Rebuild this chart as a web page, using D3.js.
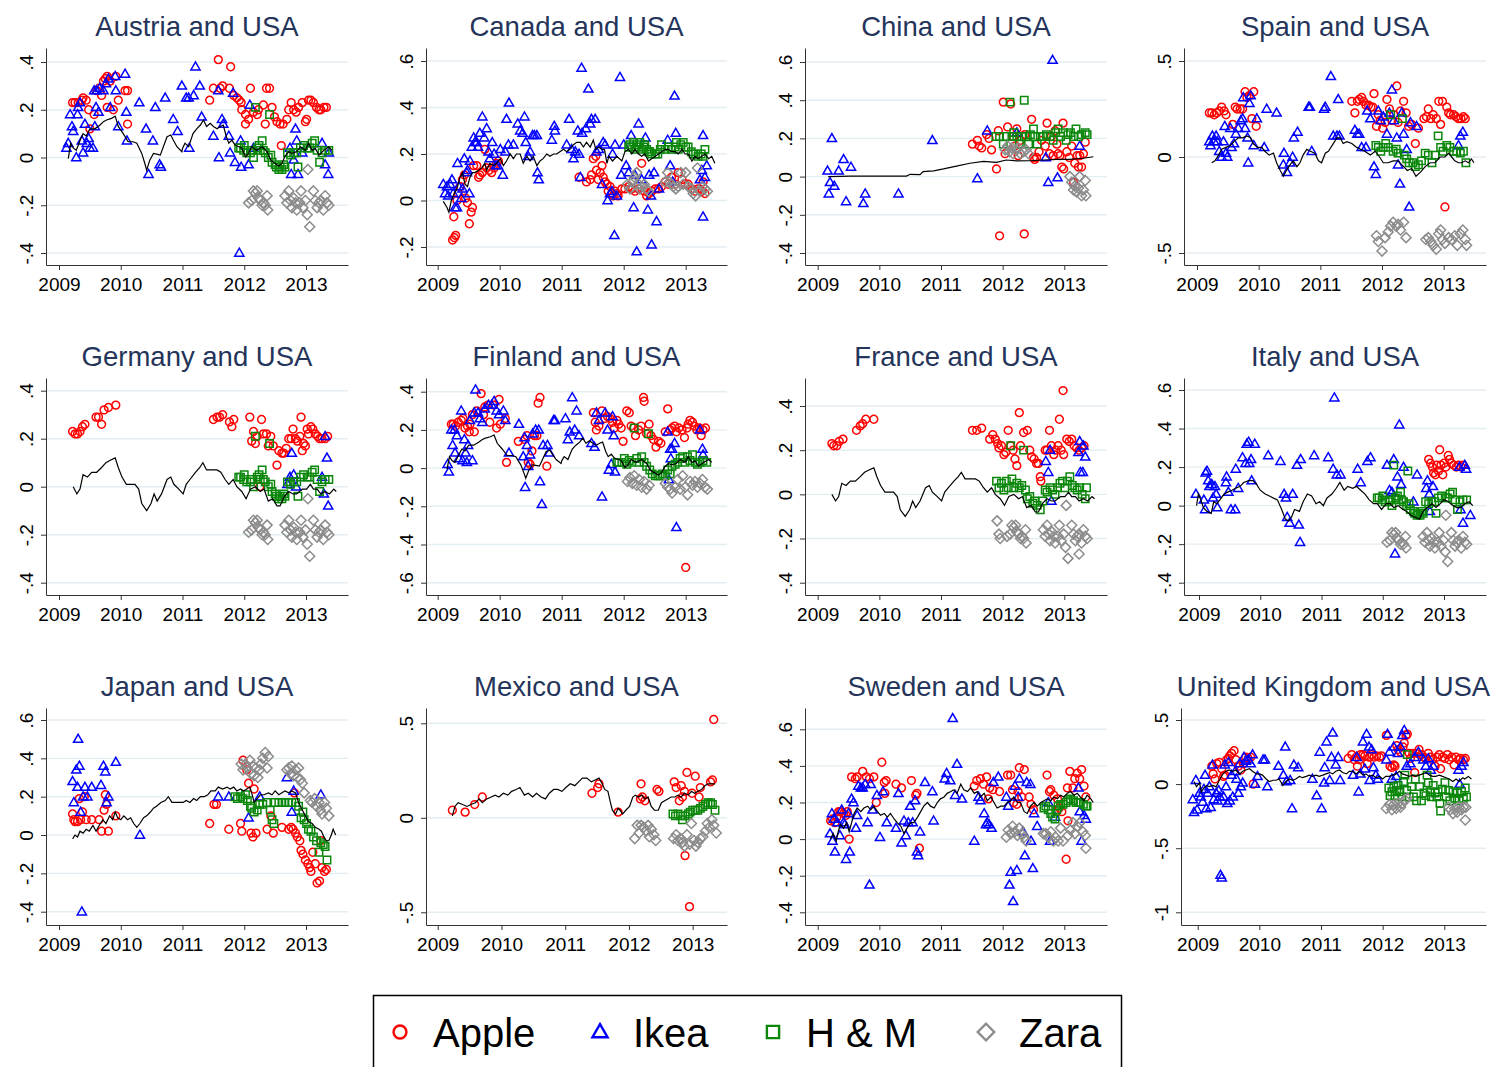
<!DOCTYPE html>
<html>
<head>
<meta charset="utf-8">
<script src="https://cdn.jsdelivr.net/npm/d3@7"></script>
<style>
body { margin: 0; background: #fff; }
svg { display: block; font-family: "Liberation Sans", Arial, sans-serif; }
</style>
</head>
<body>
<div id="chart"></div>
<script>
// ---- data: [decimal year, value] ----
var lineAF = [[2009.15,-.005],[2009.19,.06],[2009.23,.04],[2009.28,.03],[2009.34,.07],[2009.39,.10],[2009.44,.09],[2009.50,.12],[2009.58,.12],[2009.66,.135],[2009.72,.15],[2009.77,.157],[2009.85,.164],[2009.91,.173],[2009.96,.13],[2010.04,.10],[2010.12,.066],[2010.20,.066],[2010.26,.06],[2010.34,.017],[2010.39,-.025],[2010.42,-.053],[2010.47,-.011],[2010.53,.017],[2010.58,.014],[2010.64,.01],[2010.69,.045],[2010.75,.087],[2010.81,.094],[2010.85,.073],[2010.91,.045],[2010.99,.024],[2011.00,.038],[2011.04,.06],[2011.10,.045],[2011.17,.10],[2011.23,.12],[2011.29,.136],[2011.34,.157],[2011.39,.13],[2011.45,.143],[2011.50,.13],[2011.56,.12],[2011.61,.13],[2011.66,.136],[2011.71,.087],[2011.75,.06],[2011.80,.073],[2011.85,.052],[2011.91,.045],[2011.96,.04],[2012.02,.003],[2012.07,.017],[2012.12,.045],[2012.20,.03],[2012.29,.045],[2012.37,.024],[2012.43,-.011],[2012.50,-.025],[2012.56,-.036],[2012.61,-.025],[2012.66,.006],[2012.72,.024],[2012.77,.017],[2012.85,.024],[2012.91,.045],[2012.99,.03],[2013.04,.06],[2013.10,.03],[2013.15,.038],[2013.21,.01],[2013.29,.03],[2013.37,.045],[2013.42,.03]];
var austriaApple = [[2009.22,.23],[2009.26,.23],[2009.31,.23],[2009.37,.24],[2009.39,.25],[2009.44,.24],[2009.48,.20],[2009.50,.12],[2009.57,.18],[2009.61,.28],[2009.65,.29],[2009.69,.26],[2009.72,.32],[2009.75,.33],[2009.78,.34],[2009.78,.21],[2009.83,.32],[2009.88,.20],[2009.92,.34],[2009.96,.24],[2010.07,.28],[2010.11,.28],[2010.11,.14],[2011.44,.24],[2011.50,.29],[2011.58,.41],[2011.61,.29],[2011.65,.30],[2011.76,.29],[2011.78,.38],[2011.83,.26],[2011.88,.25],[2011.92,.24],[2011.95,.23],[2011.96,.20],[2012.02,.18],[2012.02,.14],[2012.07,.16],[2012.10,.29],[2012.15,.19],[2012.21,.18],[2012.23,.20],[2012.31,.22],[2012.34,.14],[2012.36,.29],[2012.41,.29],[2012.45,.21],[2012.49,.17],[2012.53,.15],[2012.58,.14],[2012.60,.05],[2012.63,.14],[2012.69,.16],[2012.72,.20],[2012.76,.23],[2012.80,.20],[2012.84,.19],[2012.88,.21],[2012.94,.23],[2012.99,.15],[2013.01,.16],[2013.04,.24],[2013.08,.24],[2013.12,.23],[2013.17,.21],[2013.21,.20],[2013.24,.20],[2013.29,.21],[2013.33,.21]];
var austriaIkea = [[2009.12,.04],[2009.15,.06],[2009.18,.18],[2009.21,.13],[2009.23,.11],[2009.28,.00],[2009.30,.18],[2009.31,.21],[2009.34,.23],[2009.37,.07],[2009.39,.02],[2009.42,.14],[2009.45,.06],[2009.48,.08],[2009.50,.04],[2009.55,.04],[2009.58,.13],[2009.57,.28],[2009.61,.28],[2009.60,.21],[2009.64,.19],[2009.66,.29],[2009.72,.28],[2009.76,.31],[2009.80,.33],[2009.83,.21],[2009.91,.34],[2009.92,.28],[2009.96,.13],[2010.07,.35],[2010.09,.19],[2010.10,.07],[2010.30,.23],[2010.41,.12],[2010.45,-.07],[2010.52,.07],[2010.56,.21],[2010.63,-.03],[2010.65,-.04],[2010.72,.25],[2010.85,.16],[2010.92,.11],[2010.99,.30],[2011.06,.25],[2011.10,.25],[2011.11,.04],[2011.18,.26],[2011.21,.38],[2011.28,.30],[2011.31,.17],[2011.50,.09],[2011.58,.28],[2011.59,.00],[2011.64,.16],[2011.66,.14],[2011.75,.09],[2011.77,.02],[2011.82,.27],[2011.85,-.02],[2011.92,-.40],[2011.94,.07],[2011.95,-.04],[2012.07,-.03],[2012.09,.22],[2012.15,.04],[2012.74,.04],[2012.76,-.07],[2012.80,-.01],[2012.83,.12],[2012.85,.07],[2012.87,-.07],[2012.94,.02],[2013.26,.06],[2013.31,-.03],[2013.36,-.07],[2013.37,.02]];
var euroHM = [[2011.91,.04],[2011.94,.04],[2011.99,.03],[2012.00,.05],[2012.04,.02],[2012.10,.02],[2012.12,.03],[2012.18,.21],[2012.15,.00],[2012.21,.04],[2012.24,.05],[2012.26,.03],[2012.29,.07],[2012.31,.03],[2012.34,.02],[2012.39,.00],[2012.41,.18],[2012.43,.01],[2012.45,-.02],[2012.50,-.03],[2012.52,-.04],[2012.56,-.05],[2012.58,-.04],[2012.61,-.05],[2012.64,-.03],[2012.66,-.04],[2012.70,.02],[2012.75,.01],[2012.80,.02],[2012.85,.02],[2012.87,-.04],[2012.91,.04],[2012.96,.05],[2013.02,.04],[2013.06,.04],[2013.10,.06],[2013.14,.07],[2013.18,.03],[2013.22,-.02],[2013.26,.02],[2013.31,.03],[2013.37,.03]];
var euroZara = [[2012.07,-.19],[2012.12,-.18],[2012.15,-.14],[2012.18,-.15],[2012.21,-.14],[2012.23,-.17],[2012.26,-.18],[2012.29,-.20],[2012.31,-.19],[2012.34,-.20],[2012.37,-.16],[2012.38,-.22],[2012.66,-.16],[2012.69,-.19],[2012.72,-.14],[2012.75,-.18],[2012.77,-.21],[2012.80,-.17],[2012.83,-.19],[2012.85,-.22],[2012.90,-.19],[2012.92,-.14],[2012.95,-.21],[2012.99,-.18],[2013.02,-.24],[2013.03,-.05],[2013.06,-.29],[2013.12,-.14],[2013.15,-.18],[2013.18,-.21],[2013.21,-.19],[2013.24,-.18],[2013.28,-.22],[2013.31,-.16],[2013.34,-.19],[2013.37,-.20]];

var canadaLine = [[2009.09,-.004],[2009.15,-.03],[2009.18,-.05],[2009.22,.00],[2009.25,.02],[2009.31,.05],[2009.36,.10],[2009.40,.12],[2009.44,.07],[2009.48,.06],[2009.52,.10],[2009.56,.12],[2009.60,.12],[2009.66,.13],[2009.71,.14],[2009.76,.16],[2009.79,.13],[2009.84,.16],[2009.90,.15],[2009.95,.16],[2010.01,.18],[2010.06,.15],[2010.11,.17],[2010.17,.20],[2010.22,.18],[2010.27,.20],[2010.33,.20],[2010.38,.16],[2010.44,.19],[2010.49,.17],[2010.54,.19],[2010.60,.15],[2010.65,.17],[2010.70,.18],[2010.76,.20],[2010.81,.19],[2010.87,.20],[2010.92,.20],[2010.97,.21],[2011.03,.22],[2011.08,.21],[2011.13,.22],[2011.19,.24],[2011.24,.25],[2011.30,.25],[2011.35,.23],[2011.40,.25],[2011.46,.23],[2011.51,.26],[2011.55,.22],[2011.60,.23],[2011.65,.22],[2011.69,.22],[2011.73,.16],[2011.76,.19],[2011.82,.17],[2011.89,.19],[2011.97,.17],[2012.02,.21],[2012.08,.22],[2012.13,.20],[2012.18,.22],[2012.24,.20],[2012.29,.19],[2012.34,.20],[2012.40,.17],[2012.45,.18],[2012.51,.19],[2012.56,.20],[2012.61,.21],[2012.67,.22],[2012.72,.22],[2012.77,.21],[2012.83,.21],[2012.88,.20],[2012.94,.22],[2012.99,.20],[2013.04,.20],[2013.10,.17],[2013.15,.19],[2013.20,.18],[2013.26,.19],[2013.31,.20],[2013.37,.18],[2013.42,.19],[2013.47,.16]];
var canadaApple = [[2009.24,-.17],[2009.27,-.16],[2009.29,-.15],[2009.26,-.07],[2009.31,.00],[2009.33,.03],[2009.36,.06],[2009.40,.09],[2009.43,.11],[2009.45,.01],[2009.48,-.01],[2009.51,-.10],[2009.54,-.05],[2009.56,-.03],[2009.58,.15],[2009.63,.15],[2009.66,.10],[2009.68,.11],[2009.72,.12],[2009.76,.22],[2009.79,.14],[2009.83,.13],[2009.87,.12],[2009.91,.14],[2009.95,.16],[2009.98,.17],[2011.28,.10],[2011.40,.08],[2011.46,.09],[2011.48,.11],[2011.51,.18],[2011.55,.19],[2011.56,.13],[2011.59,.09],[2011.62,.12],[2011.65,.15],[2011.67,.10],[2011.70,.08],[2011.73,.07],[2011.75,.04],[2011.78,.06],[2011.81,.03],[2011.83,.02],[2011.86,.04],[2011.89,.03],[2011.91,.02],[2011.97,.05],[2012.02,.05],[2012.08,.06],[2012.13,.05],[2012.18,.04],[2012.24,.05],[2012.29,.16],[2012.33,.04],[2012.37,.02],[2012.41,.03],[2012.45,.04],[2012.51,.05],[2012.56,.05],[2012.61,.06],[2012.67,.08],[2012.72,.07],[2012.77,.10],[2012.83,.07],[2012.88,.12],[2012.94,.09],[2012.99,.07],[2013.04,.07],[2013.10,.05],[2013.15,.04],[2013.20,.05],[2013.26,.04],[2013.28,.08],[2013.31,.03]];
var canadaIkea = [[2009.09,.07],[2009.12,.03],[2009.15,.06],[2009.17,.02],[2009.20,.07],[2009.23,.09],[2009.25,.03],[2009.28,-.03],[2009.31,-.03],[2009.32,.16],[2009.34,.06],[2009.38,.01],[2009.40,.05],[2009.43,.18],[2009.47,.12],[2009.48,.13],[2009.51,.03],[2009.52,.17],[2009.55,.23],[2009.58,.27],[2009.60,.25],[2009.63,.25],[2009.65,.23],[2009.68,.29],[2009.72,.36],[2009.75,.27],[2009.79,.31],[2009.82,.21],[2009.84,.18],[2009.88,.25],[2009.91,.20],[2009.94,.15],[2009.97,.15],[2010.01,.22],[2010.05,.11],[2010.09,.21],[2010.11,.35],[2010.14,.24],[2010.15,.42],[2010.22,.24],[2010.29,.33],[2010.33,.30],[2010.37,.29],[2010.40,.36],[2010.42,.25],[2010.46,.19],[2010.49,.21],[2010.53,.28],[2010.56,.28],[2010.60,.28],[2010.61,.12],[2010.63,.09],[2010.84,.26],[2010.88,.32],[2010.89,.30],[2011.08,.24],[2011.12,.35],[2011.16,.22],[2011.19,.18],[2011.22,.21],[2011.26,.30],[2011.28,.20],[2011.30,.10],[2011.32,.57],[2011.33,.29],[2011.39,.31],[2011.43,.48],[2011.46,.33],[2011.48,.35],[2011.54,.35],[2011.56,.21],[2011.60,.22],[2011.65,.07],[2011.67,.25],[2011.70,.24],[2011.74,.00],[2011.78,.03],[2011.81,.04],[2011.82,.20],[2011.85,-.15],[2011.86,.24],[2011.89,.02],[2011.94,.53],[2011.96,.11],[2012.00,.24],[2012.04,.15],[2012.08,.12],[2012.12,.28],[2012.16,-.03],[2012.18,.11],[2012.21,-.22],[2012.24,.33],[2012.29,.09],[2012.35,.27],[2012.39,-.04],[2012.41,.11],[2012.44,.02],[2012.45,-.19],[2012.49,.12],[2012.53,-.09],[2012.57,.05],[2012.71,.26],[2012.75,.15],[2012.79,.08],[2012.82,.45],[2012.84,.29],[2013.23,.09],[2013.26,.13],[2013.28,.28],[2013.28,-.07],[2013.31,.10],[2013.34,.15]];
var canadaHM = [[2012.08,.23],[2012.10,.24],[2012.13,.23],[2012.16,.25],[2012.18,.22],[2012.21,.24],[2012.24,.23],[2012.26,.25],[2012.29,.22],[2012.32,.23],[2012.34,.24],[2012.37,.22],[2012.40,.21],[2012.42,.21],[2012.45,.20],[2012.51,.20],[2012.55,.20],[2012.59,.22],[2012.61,.24],[2012.67,.22],[2012.72,.23],[2012.77,.22],[2012.83,.23],[2012.85,.25],[2012.88,.22],[2012.92,.24],[2012.96,.25],[2013.00,.23],[2013.04,.23],[2013.09,.21],[2013.12,.20],[2013.16,.20],[2013.20,.19],[2013.25,.20],[2013.28,.19],[2013.31,.22]];
var canadaZara = [[2012.06,.07],[2012.10,.05],[2012.14,.08],[2012.17,.10],[2012.21,.12],[2012.24,.07],[2012.26,.05],[2012.30,.06],[2012.33,.07],[2012.37,.05],[2012.40,.04],[2012.67,.08],[2012.71,.12],[2012.74,.08],[2012.77,.07],[2012.80,.06],[2012.84,.05],[2012.88,.06],[2012.92,.12],[2012.96,.07],[2013.00,.12],[2013.04,.06],[2013.09,.05],[2013.12,.03],[2013.16,.02],[2013.19,.14],[2013.23,.04],[2013.27,.06],[2013.31,.05],[2013.35,.04]];

var chinaLine = [[2009.17,.0],[2009.52,.003],[2010.06,.003],[2010.44,.003],[2010.50,.012],[2010.66,.01],[2010.71,.026],[2010.88,.03],[2011.04,.04],[2011.25,.055],[2011.47,.07],[2011.69,.08],[2011.90,.075],[2012.06,.087],[2012.23,.082],[2012.44,.083],[2012.66,.087],[2012.88,.09],[2013.09,.09],[2013.31,.096],[2013.47,.104]];
var chinaApple = [[2011.51,.17],[2011.59,.19],[2011.62,.16],[2011.66,.15],[2011.74,.22],[2011.78,.20],[2011.82,.14],[2011.90,.04],[2011.93,.24],[2011.95,-.31],[2012.01,.39],[2012.04,.12],[2012.08,.26],[2012.13,.38],[2012.17,.21],[2012.20,.16],[2012.23,.25],[2012.25,.11],[2012.29,.19],[2012.35,-.30],[2012.36,.22],[2012.47,.30],[2012.50,.10],[2012.52,.09],[2012.55,.10],[2012.59,.13],[2012.63,.19],[2012.69,.16],[2012.72,.28],[2012.76,.12],[2012.79,.21],[2012.82,.11],[2012.85,.24],[2012.88,.17],[2012.90,.12],[2012.93,.11],[2012.96,.05],[2012.98,.28],[2012.99,.04],[2013.04,.13],[2013.08,.10],[2013.12,.16],[2013.15,-.03],[2013.17,.07],[2013.21,.11],[2013.23,.05],[2013.25,.11],[2013.28,.05],[2013.31,.12],[2013.34,.18]];
var chinaIkea = [[2009.16,.03],[2009.18,-.09],[2009.20,-.03],[2009.23,.20],[2009.27,-.05],[2009.34,.03],[2009.42,.09],[2009.46,-.13],[2009.54,.05],[2009.74,-.14],[2009.77,-.09],[2010.31,-.09],[2010.86,.19],[2011.59,-.01],[2011.75,.24],[2012.23,.23],[2012.70,.10],[2012.74,-.03],[2012.81,.61],[2012.89,-.005],[2013.25,.16]];
var chinaHM = [[2011.89,.21],[2011.95,.21],[2012.01,.17],[2012.06,.21],[2012.12,.39],[2012.15,.21],[2012.18,.23],[2012.23,.21],[2012.27,.17],[2012.31,.21],[2012.35,.40],[2012.38,.21],[2012.42,.17],[2012.45,.22],[2012.50,.25],[2012.52,.21],[2012.56,.17],[2012.61,.21],[2012.66,.21],[2012.71,.22],[2012.77,.21],[2012.82,.19],[2012.86,.23],[2012.90,.25],[2012.94,.21],[2012.98,.23],[2013.03,.19],[2013.06,.22],[2013.10,.23],[2013.15,.21],[2013.19,.25],[2013.23,.21],[2013.28,.22],[2013.34,.23],[2013.37,.22]];
var chinaZara = [[2012.04,.14],[2012.08,.16],[2012.11,.13],[2012.15,.15],[2012.17,.12],[2012.22,.14],[2012.25,.15],[2012.29,.12],[2012.34,.13],[2012.38,.14],[2012.42,.12],[2013.09,.00],[2013.12,-.03],[2013.15,-.07],[2013.17,-.05],[2013.20,-.08],[2013.23,-.06],[2013.25,.00],[2013.28,-.10],[2013.31,-.07],[2013.34,-.02],[2013.35,-.10]];

var spainLine = [[2009.24,-.03],[2009.29,-.02],[2009.35,.01],[2009.40,.04],[2009.47,.05],[2009.54,.06],[2009.60,.08],[2009.67,.10],[2009.74,.10],[2009.81,.11],[2009.87,.10],[2009.91,.07],[2009.98,.05],[2010.05,.05],[2010.10,.03],[2010.17,.01],[2010.24,.02],[2010.29,-.03],[2010.35,-.07],[2010.40,-.10],[2010.45,-.07],[2010.51,-.04],[2010.56,-.02],[2010.62,-.05],[2010.67,-.03],[2010.72,.01],[2010.78,.04],[2010.84,.03],[2010.91,.02],[2010.97,-.02],[2011.02,-.03],[2011.08,.02],[2011.13,.03],[2011.21,.07],[2011.27,.10],[2011.32,.10],[2011.37,.07],[2011.43,.08],[2011.51,.07],[2011.59,.05],[2011.65,.04],[2011.72,.03],[2011.81,.01],[2011.89,.03],[2011.96,.00],[2012.02,-.03],[2012.10,-.03],[2012.18,-.02],[2012.26,-.02],[2012.35,-.05],[2012.41,-.07],[2012.48,-.06],[2012.55,-.10],[2012.62,-.08],[2012.70,-.05],[2012.78,-.03],[2012.86,-.03],[2012.94,.00],[2013.02,.00],[2013.08,.02],[2013.13,.00],[2013.18,-.02],[2013.24,-.03],[2013.29,-.03],[2013.35,-.02],[2013.40,-.03],[2013.45,-.01],[2013.49,-.03]];
var spainApple = [[2009.20,.23],[2009.24,.23],[2009.28,.22],[2009.32,.23],[2009.36,.24],[2009.40,.26],[2009.44,.24],[2009.47,.22],[2009.58,.17],[2009.62,.26],[2009.65,.25],[2009.70,.25],[2009.74,.25],[2009.78,.34],[2009.81,.31],[2009.85,.32],[2009.89,.20],[2009.92,.34],[2009.96,.16],[2011.51,.29],[2011.56,.23],[2011.60,.29],[2011.63,.30],[2011.67,.31],[2011.70,.29],[2011.74,.27],[2011.78,.27],[2011.82,.26],[2011.85,.26],[2011.87,.33],[2011.91,.16],[2011.94,.22],[2011.97,.19],[2012.01,.15],[2012.05,.18],[2012.08,.30],[2012.12,.25],[2012.16,.19],[2012.19,.22],[2012.24,.37],[2012.26,.18],[2012.30,.24],[2012.35,.29],[2012.39,.23],[2012.43,.16],[2012.48,.17],[2012.54,.07],[2012.59,.15],[2012.68,.20],[2012.72,.21],[2012.75,.25],[2012.79,.20],[2012.83,.22],[2012.88,.20],[2012.92,.29],[2012.95,.17],[2012.98,.29],[2013.02,-.26],[2013.05,.26],[2013.08,.23],[2013.11,.22],[2013.16,.22],[2013.20,.21],[2013.24,.20],[2013.28,.20],[2013.32,.21],[2013.35,.20]];
var spainIkea = [[2009.20,.08],[2009.22,.06],[2009.25,.11],[2009.28,.08],[2009.31,.11],[2009.33,.08],[2009.36,.03],[2009.40,.00],[2009.43,.08],[2009.45,.16],[2009.47,.02],[2009.49,.00],[2009.54,.15],[2009.56,.05],[2009.60,.07],[2009.63,.12],[2009.67,.15],[2009.71,.19],[2009.74,.20],[2009.75,.31],[2009.78,.15],[2009.82,.10],[2009.83,-.03],[2009.85,.28],[2009.87,.32],[2009.92,.06],[2009.97,.20],[2010.09,.05],[2010.13,.25],[2010.29,.23],[2010.41,.02],[2010.40,-.04],[2010.46,-.08],[2010.51,-.03],[2010.55,.00],[2010.57,.10],[2010.63,.13],[2010.81,.26],[2010.83,.26],[2010.86,.03],[2011.06,.25],[2011.08,.26],[2011.17,.42],[2011.21,.11],[2011.27,.11],[2011.29,.30],[2011.31,.11],[2011.56,.14],[2011.60,.12],[2011.63,.12],[2011.67,.05],[2011.74,.05],[2011.76,.24],[2011.81,.20],[2011.87,-.05],[2011.90,-.09],[2011.94,.24],[2011.98,.19],[2012.02,.21],[2012.08,.12],[2012.12,.23],[2012.16,.35],[2012.19,.19],[2012.24,.10],[2012.26,-.04],[2012.29,-.14],[2012.32,.23],[2012.35,.12],[2012.40,.04],[2012.44,-.26],[2012.46,.18],[2012.56,.16],[2013.24,.06],[2013.27,.11],[2013.31,.13]];
var spainHM = [[2011.90,.06],[2011.94,.05],[2011.98,.03],[2012.02,.05],[2012.06,.07],[2012.10,.05],[2012.14,.22],[2012.18,.03],[2012.23,.04],[2012.26,.02],[2012.33,.20],[2012.36,.01],[2012.40,-.01],[2012.44,-.03],[2012.50,-.03],[2012.54,-.05],[2012.59,-.04],[2012.64,-.02],[2012.70,.02],[2012.75,.01],[2012.81,-.03],[2012.86,.01],[2012.91,.11],[2012.95,.05],[2012.99,.03],[2013.05,.06],[2013.10,.05],[2013.16,.03],[2013.21,.03],[2013.27,.02],[2013.32,.03],[2013.36,-.03]];
var spainZara = [[2011.91,-.41],[2011.94,-.44],[2012.00,-.49],[2012.05,-.42],[2012.10,-.39],[2012.14,-.36],[2012.18,-.34],[2012.23,-.36],[2012.26,-.35],[2012.30,-.38],[2012.35,-.34],[2012.39,-.42],[2012.71,-.43],[2012.75,-.42],[2012.79,-.44],[2012.83,-.46],[2012.88,-.48],[2012.92,-.40],[2012.95,-.38],[2012.98,-.43],[2013.02,-.45],[2013.08,-.42],[2013.13,-.43],[2013.18,-.41],[2013.22,-.46],[2013.27,-.40],[2013.31,-.38],[2013.35,-.43],[2013.37,-.46]];

var euroLine = [[2009.23,.00],[2009.29,-.03],[2009.34,-.01],[2009.39,.05],[2009.46,.04],[2009.53,.06],[2009.61,.06],[2009.69,.08],[2009.76,.10],[2009.83,.11],[2009.91,.12],[2009.96,.08],[2010.02,.04],[2010.09,.01],[2010.16,.01],[2010.23,.01],[2010.29,-.01],[2010.34,-.07],[2010.42,-.10],[2010.49,-.07],[2010.54,-.03],[2010.59,-.06],[2010.66,-.03],[2010.75,.03],[2010.81,.04],[2010.86,.01],[2010.94,-.01],[2011.01,-.03],[2011.06,.01],[2011.12,.03],[2011.21,.06],[2011.28,.08],[2011.33,.10],[2011.39,.07],[2011.48,.07],[2011.56,.07],[2011.62,.06],[2011.69,.03],[2011.75,.01],[2011.82,.03],[2011.88,.00],[2011.96,-.02],[2012.03,-.05],[2012.10,-.01],[2012.18,.00],[2012.26,-.02],[2012.32,-.01],[2012.39,-.06],[2012.46,-.05],[2012.53,-.08],[2012.58,-.08],[2012.65,-.04],[2012.72,-.02],[2012.79,-.03],[2012.85,-.03],[2012.94,-.01],[2013.01,-.01],[2013.07,.01],[2013.12,-.01],[2013.18,-.01],[2013.24,-.03],[2013.31,-.02],[2013.38,-.03],[2013.45,-.01],[2013.49,-.02]];
var germanyApple = [[2009.22,.23],[2009.26,.22],[2009.30,.22],[2009.34,.23],[2009.38,.25],[2009.42,.26],[2009.60,.29],[2009.64,.29],[2009.69,.26],[2009.73,.32],[2009.80,.33],[2009.92,.34],[2011.50,.28],[2011.56,.29],[2011.60,.29],[2011.65,.30],[2011.76,.27],[2011.80,.25],[2011.83,.28],[2012.09,.29],[2012.12,.19],[2012.15,.23],[2012.18,.18],[2012.21,.21],[2012.25,.00],[2012.28,.28],[2012.31,.22],[2012.36,.22],[2012.39,.17],[2012.43,.21],[2012.47,.17],[2012.53,.09],[2012.56,.15],[2012.61,.14],[2012.64,.14],[2012.68,.16],[2012.72,.20],[2012.76,.20],[2012.79,.24],[2012.83,.20],[2012.86,.19],[2012.90,.21],[2012.92,.29],[2012.94,.15],[2012.96,.18],[2012.99,.17],[2013.02,.24],[2013.04,.22],[2013.08,.25],[2013.11,.24],[2013.15,.22],[2013.19,.21],[2013.22,.20],[2013.26,.20],[2013.31,.20],[2013.35,.21]];
var germanyIkea = [[2012.70,.01],[2012.74,.04],[2012.77,.14],[2012.80,.05],[2012.84,.00],[2013.26,.04],[2013.29,-.03],[2013.31,.21],[2013.34,.12],[2013.36,-.08]];

var finlandApple = [[2009.22,.23],[2009.25,.23],[2009.29,.22],[2009.33,.24],[2009.38,.25],[2009.41,.26],[2009.44,.21],[2009.48,.22],[2009.51,.19],[2009.52,.23],[2009.56,.28],[2009.59,.19],[2009.63,.30],[2009.70,.39],[2009.74,.28],[2009.76,.32],[2009.81,.33],[2009.84,.24],[2009.90,.33],[2009.95,.21],[2009.99,.36],[2010.01,.23],[2010.09,.26],[2010.11,.03],[2010.30,.14],[2010.40,.15],[2010.44,.17],[2010.46,.03],[2010.49,.02],[2010.52,.09],[2010.56,.17],[2010.60,.17],[2010.62,.34],[2010.65,.37],[2010.76,.01],[2011.51,.29],[2011.54,.24],[2011.56,.20],[2011.60,.22],[2011.65,.30],[2011.70,.26],[2011.74,.27],[2011.78,.26],[2011.82,.24],[2011.85,.21],[2011.89,.25],[2011.92,.23],[2011.96,.21],[2011.99,.14],[2012.05,.30],[2012.09,.29],[2012.12,.22],[2012.16,.21],[2012.19,.17],[2012.24,.20],[2012.28,.22],[2012.32,.37],[2012.33,.35],[2012.37,.18],[2012.41,.23],[2012.44,.17],[2012.48,.15],[2012.52,.11],[2012.56,.14],[2012.60,.13],[2012.67,.19],[2012.71,.31],[2012.75,.20],[2012.78,.21],[2012.82,.22],[2012.85,.19],[2012.89,.21],[2012.94,.20],[2012.98,.16],[2013.00,-.52],[2013.02,.21],[2013.04,.23],[2013.07,.25],[2013.11,.24],[2013.14,.22],[2013.18,.20],[2013.22,.21],[2013.25,.17],[2013.28,.20],[2013.32,.21]];
var finlandIkea = [[2009.16,.02],[2009.18,-.02],[2009.22,.20],[2009.24,.12],[2009.27,.20],[2009.28,.08],[2009.31,.17],[2009.34,.05],[2009.38,.30],[2009.40,.04],[2009.43,.15],[2009.45,.08],[2009.47,.03],[2009.49,.12],[2009.52,.25],[2009.56,.04],[2009.59,.29],[2009.61,.41],[2009.65,.29],[2009.68,.26],[2009.72,.24],[2009.76,.31],[2009.82,.33],[2009.87,.33],[2009.91,.35],[2009.95,.30],[2009.99,.28],[2010.06,.30],[2010.09,.25],[2010.15,.08],[2010.31,.23],[2010.38,.06],[2010.40,.16],[2010.41,-.10],[2010.44,.12],[2010.46,.01],[2010.49,.07],[2010.53,.18],[2010.58,.20],[2010.63,.20],[2010.65,-.07],[2010.68,-.19],[2010.70,.12],[2010.77,.12],[2010.80,.08],[2010.87,.25],[2010.89,.25],[2011.06,.26],[2011.10,.15],[2011.13,.19],[2011.17,.37],[2011.21,.20],[2011.24,.30],[2011.28,.17],[2011.48,.13],[2011.53,.11],[2011.56,.29],[2011.60,.25],[2011.65,-.15],[2011.70,.29],[2011.74,.20],[2011.76,-.01],[2011.80,.02],[2011.82,.27],[2011.84,.17],[2011.86,-.02],[2012.71,.19],[2012.73,-.06],[2012.75,.10],[2012.76,.05],[2012.78,.10],[2012.82,.13],[2012.85,-.31],[2013.23,.20],[2013.27,.10],[2013.28,.07]];
var finlandHM = [[2011.89,.03],[2011.92,.03],[2011.97,.03],[2012.01,.05],[2012.05,.02],[2012.09,.04],[2012.13,.03],[2012.17,.21],[2012.21,.05],[2012.25,.03],[2012.29,.06],[2012.33,.03],[2012.37,.01],[2012.40,.18],[2012.42,-.01],[2012.46,-.03],[2012.51,-.04],[2012.55,-.04],[2012.59,-.04],[2012.62,-.03],[2012.67,-.04],[2012.71,-.01],[2012.75,-.03],[2012.78,.01],[2012.83,.02],[2012.87,.03],[2012.91,.05],[2012.95,.06],[2012.99,.03],[2013.03,.06],[2013.07,.04],[2013.11,.07],[2013.15,.03],[2013.19,.02],[2013.23,.03],[2013.28,.04],[2013.34,.03]];
var finlandZara = [[2012.06,-.07],[2012.10,-.05],[2012.14,-.08],[2012.17,-.04],[2012.21,-.09],[2012.25,-.06],[2012.29,-.10],[2012.33,-.07],[2012.37,-.11],[2012.41,-.09],[2012.67,-.08],[2012.71,-.10],[2012.75,-.11],[2012.78,-.13],[2012.83,-.10],[2012.87,-.06],[2012.91,-.11],[2012.95,-.04],[2012.99,-.10],[2013.03,-.14],[2013.07,-.07],[2013.11,-.09],[2013.15,-.07],[2013.19,-.10],[2013.23,-.08],[2013.27,-.06],[2013.31,-.10],[2013.35,-.11]];

var franceApple = [[2009.23,.23],[2009.26,.22],[2009.31,.22],[2009.35,.24],[2009.41,.25],[2009.63,.29],[2009.69,.31],[2009.73,.32],[2009.78,.34],[2009.91,.34],[2011.51,.29],[2011.58,.29],[2011.66,.30],[2011.79,.25],[2011.84,.27],[2011.88,.25],[2011.92,.23],[2011.94,.21],[2011.98,.22],[2012.02,.18],[2012.05,.19],[2012.09,.29],[2012.13,.22],[2012.17,.20],[2012.20,.16],[2012.23,.13],[2012.27,.37],[2012.29,.22],[2012.34,.28],[2012.40,.29],[2012.44,.20],[2012.47,.17],[2012.51,.16],[2012.55,.14],[2012.58,.14],[2012.61,.08],[2012.62,.06],[2012.69,.20],[2012.72,.20],[2012.76,.29],[2012.79,.22],[2012.83,.18],[2012.86,.20],[2012.90,.22],[2012.92,.34],[2012.95,.20],[2012.98,.47],[2012.99,.18],[2013.04,.25],[2013.08,.24],[2013.12,.25],[2013.16,.22],[2013.20,.21],[2013.24,.20],[2013.28,.21],[2013.32,.22]];
var franceIkea = [[2012.70,.15],[2012.74,.10],[2012.77,.20],[2012.79,-.03],[2013.23,.19],[2013.25,.24],[2013.26,.10],[2013.30,.10],[2013.31,.22],[2013.34,.17]];
var franceHM = [[2011.90,.06],[2011.94,.03],[2011.98,.05],[2012.02,.02],[2012.06,.06],[2012.09,.03],[2012.13,.22],[2012.15,.07],[2012.18,.03],[2012.23,.05],[2012.27,.03],[2012.31,.04],[2012.34,.20],[2012.37,.02],[2012.40,-.02],[2012.44,-.01],[2012.49,-.04],[2012.52,-.03],[2012.56,-.05],[2012.61,-.07],[2012.65,-.03],[2012.69,.02],[2012.72,.01],[2012.77,.03],[2012.81,.02],[2012.85,.00],[2012.89,.03],[2012.93,.05],[2012.97,.06],[2013.01,.03],[2013.05,.06],[2013.09,.08],[2013.13,.04],[2013.17,.03],[2013.21,.02],[2013.25,.03],[2013.29,.00],[2013.34,-.02],[2013.36,.03]];
var franceZaraExtra = [[2011.91,-.12],[2011.94,-.18],[2011.96,-.20],[2013.24,-.27]];

var italyLine = [[2008.96,.00],[2008.99,.06],[2009.03,.03],[2009.07,-.01],[2009.13,-.03],[2009.20,-.04],[2009.24,.02],[2009.29,.01],[2009.34,.03],[2009.41,.06],[2009.47,.07],[2009.54,.08],[2009.60,.09],[2009.67,.10],[2009.73,.12],[2009.81,.13],[2009.88,.13],[2009.94,.11],[2010.00,.08],[2010.08,.06],[2010.15,.05],[2010.21,.04],[2010.28,.03],[2010.35,-.02],[2010.41,-.07],[2010.46,-.08],[2010.51,-.06],[2010.56,-.02],[2010.64,-.03],[2010.70,.02],[2010.77,.06],[2010.84,.05],[2010.91,.01],[2010.97,.02],[2011.03,.00],[2011.09,.04],[2011.17,.06],[2011.24,.09],[2011.30,.12],[2011.37,.08],[2011.43,.10],[2011.51,.09],[2011.57,.10],[2011.64,.08],[2011.71,.06],[2011.78,.03],[2011.85,.01],[2011.91,.01],[2011.98,-.02],[2012.06,.01],[2012.12,.01],[2012.18,-.01],[2012.25,.00],[2012.33,-.02],[2012.39,-.03],[2012.46,-.05],[2012.52,-.06],[2012.60,-.07],[2012.66,-.03],[2012.73,-.01],[2012.80,.01],[2012.87,-.01],[2012.94,.01],[2013.00,.03],[2013.07,.02],[2013.15,.00],[2013.21,-.01],[2013.27,-.01],[2013.34,.01],[2013.41,.02],[2013.47,.00]];
var italyApple = [[2012.75,.24],[2012.78,.22],[2012.81,.20],[2012.83,.17],[2012.86,.16],[2012.88,.21],[2012.91,.18],[2012.93,.29],[2012.95,.21],[2012.98,.16],[2013.00,.22],[2013.03,.20],[2013.07,.26],[2013.09,.24],[2013.12,.22],[2013.16,.21],[2013.20,.20],[2013.24,.21],[2013.28,.20],[2013.31,.21]];
var italyIkea = [[2008.95,.06],[2009.08,.03],[2009.10,-.02],[2009.11,.17],[2009.13,.18],[2009.15,.13],[2009.17,.10],[2009.21,.11],[2009.23,.04],[2009.26,.10],[2009.28,.06],[2009.30,-.01],[2009.44,.12],[2009.45,.15],[2009.48,.07],[2009.52,-.02],[2009.59,-.02],[2009.60,.19],[2009.64,.09],[2009.71,.25],[2009.76,.22],[2009.78,.32],[2009.81,.33],[2009.82,.22],[2009.85,.24],[2009.86,.13],[2009.91,.32],[2010.13,.26],[2010.33,.23],[2010.39,.06],[2010.42,.04],[2010.44,-.06],[2010.48,-.09],[2010.53,.06],[2010.60,.21],[2010.63,-.10],[2010.66,.24],[2010.65,-.19],[2010.88,.26],[2011.11,.25],[2011.19,.19],[2011.21,.56],[2011.25,.16],[2011.31,.16],[2011.59,.19],[2011.64,.12],[2011.75,.23],[2011.80,.25],[2012.07,.21],[2012.11,.08],[2012.15,.07],[2012.18,.24],[2012.20,-.25],[2012.24,.15],[2012.27,.42],[2012.30,.11],[2012.34,.20],[2012.50,.02],[2012.56,.16],[2012.71,.09],[2012.73,.13],[2012.76,.06],[2012.77,-.03],[2012.82,.10],[2013.25,.20],[2013.27,-.02],[2013.31,-.09],[2013.34,.21],[2013.36,.19],[2013.43,-.05]];

var japanLine = [[2009.22,-.02],[2009.26,.00],[2009.30,-.01],[2009.34,.02],[2009.39,.01],[2009.44,.03],[2009.49,.02],[2009.55,.05],[2009.60,.02],[2009.65,.05],[2009.71,.08],[2009.76,.06],[2009.82,.10],[2009.87,.08],[2009.91,.12],[2009.95,.09],[2010.00,.08],[2010.05,.10],[2010.11,.08],[2010.16,.09],[2010.21,.06],[2010.26,.04],[2010.31,.06],[2010.37,.09],[2010.42,.10],[2010.48,.12],[2010.53,.14],[2010.58,.15],[2010.65,.17],[2010.72,.18],[2010.77,.20],[2010.83,.17],[2010.88,.17],[2010.95,.17],[2011.01,.17],[2011.06,.18],[2011.12,.17],[2011.18,.19],[2011.23,.18],[2011.29,.20],[2011.35,.20],[2011.41,.21],[2011.46,.23],[2011.53,.23],[2011.58,.25],[2011.65,.24],[2011.72,.25],[2011.77,.24],[2011.83,.25],[2011.88,.23],[2011.94,.24],[2011.99,.23],[2012.04,.24],[2012.09,.25],[2012.12,.22],[2012.16,.17],[2012.21,.19],[2012.26,.21],[2012.32,.21],[2012.39,.22],[2012.45,.21],[2012.50,.23],[2012.56,.21],[2012.61,.22],[2012.66,.23],[2012.72,.22],[2012.77,.23],[2012.83,.22],[2012.88,.17],[2012.94,.13],[2012.99,.10],[2013.04,.07],[2013.10,.06],[2013.15,.04],[2013.21,.03],[2013.25,.02],[2013.29,-.01],[2013.33,-.03],[2013.37,-.03],[2013.41,.00],[2013.44,.03],[2013.48,.00]];
var japanApple = [[2009.22,.11],[2009.24,.08],[2009.26,.07],[2009.30,.07],[2009.33,.19],[2009.35,.08],[2009.38,.12],[2009.41,.20],[2009.44,.08],[2009.53,.08],[2009.65,.08],[2009.69,.02],[2009.73,.13],[2009.75,.21],[2009.77,.16],[2009.80,.02],[2009.92,.10],[2011.44,.06],[2011.51,.16],[2011.55,.16],[2011.75,.03],[2011.94,.06],[2011.96,.02],[2011.98,.39],[2012.04,.34],[2012.07,.27],[2012.11,.01],[2012.14,-.01],[2012.16,.24],[2012.19,.01],[2012.37,.03],[2012.43,.10],[2012.47,.01],[2012.61,.04],[2012.72,.03],[2012.76,.04],[2012.79,.03],[2012.81,.22],[2012.83,.01],[2012.86,-.01],[2012.90,-.03],[2012.92,-.08],[2012.95,-.10],[2012.99,-.13],[2013.03,-.15],[2013.06,-.17],[2013.08,-.19],[2013.11,-.09],[2013.15,-.15],[2013.18,-.25],[2013.22,-.24],[2013.24,-.03],[2013.26,-.17],[2013.30,-.19],[2013.33,-.18]];
var japanIkea = [[2009.22,.28],[2009.24,.17],[2009.28,.34],[2009.30,.25],[2009.31,.50],[2009.33,.36],[2009.35,.12],[2009.37,-.40],[2009.39,.20],[2009.42,.25],[2009.46,.20],[2009.53,.25],[2009.68,.26],[2009.72,.36],[2009.75,.33],[2009.77,.17],[2009.80,.20],[2009.92,.38],[2010.31,.00],[2011.58,.20],[2011.75,.20],[2012.07,.09],[2012.25,.20],[2012.69,.30],[2012.77,.12],[2012.80,.23],[2013.24,.21]];
var japanHM = [[2011.85,.20],[2011.89,.19],[2011.94,.20],[2011.98,.19],[2012.02,.21],[2012.05,.18],[2012.10,.15],[2012.12,.14],[2012.16,.12],[2012.21,.13],[2012.25,.16],[2012.30,.16],[2012.36,.17],[2012.42,.13],[2012.45,.08],[2012.48,.06],[2012.50,.17],[2012.56,.17],[2012.61,.17],[2012.66,.17],[2012.72,.17],[2012.77,.17],[2012.83,.17],[2012.88,.15],[2012.92,.09],[2012.95,.12],[2012.97,.08],[2013.01,.06],[2013.04,.03],[2013.08,.02],[2013.12,-.01],[2013.17,-.03],[2013.21,-.09],[2013.24,-.04],[2013.28,-.05],[2013.31,-.06],[2013.34,-.13]];
var japanZara = [[2011.95,.37],[2011.98,.34],[2012.02,.37],[2012.05,.35],[2012.09,.39],[2012.11,.32],[2012.14,.36],[2012.16,.31],[2012.19,.35],[2012.22,.30],[2012.25,.34],[2012.27,.37],[2012.30,.40],[2012.34,.43],[2012.37,.35],[2012.39,.41],[2012.69,.34],[2012.72,.35],[2012.75,.32],[2012.77,.36],[2012.80,.31],[2012.83,.34],[2012.86,.30],[2012.88,.35],[2012.91,.29],[2012.94,.27],[2012.97,.22],[2013.07,.18],[2013.10,.17],[2013.14,.19],[2013.17,.15],[2013.21,.17],[2013.23,.13],[2013.26,.11],[2013.30,.17],[2013.33,.14],[2013.37,.10]];

var mexicoLine = [[2009.23,.01],[2009.27,.06],[2009.32,.08],[2009.39,.07],[2009.46,.06],[2009.52,.07],[2009.59,.08],[2009.65,.10],[2009.70,.08],[2009.77,.10],[2009.84,.11],[2009.90,.12],[2009.96,.11],[2010.03,.13],[2010.10,.12],[2010.16,.14],[2010.23,.15],[2010.29,.16],[2010.36,.12],[2010.42,.13],[2010.49,.11],[2010.55,.13],[2010.62,.11],[2010.69,.10],[2010.75,.13],[2010.82,.15],[2010.88,.15],[2010.95,.14],[2011.01,.16],[2011.08,.18],[2011.15,.17],[2011.21,.19],[2011.27,.21],[2011.34,.21],[2011.41,.19],[2011.47,.20],[2011.53,.21],[2011.58,.18],[2011.62,.15],[2011.67,.14],[2011.71,.08],[2011.74,.04],[2011.79,.02],[2011.83,.05],[2011.86,.04],[2011.90,.02],[2011.95,.04],[2012.01,.06],[2012.06,.11],[2012.10,.12],[2012.15,.11],[2012.20,.12],[2012.25,.10],[2012.30,.11],[2012.35,.06],[2012.40,.04],[2012.46,.04],[2012.51,.08],[2012.56,.09],[2012.61,.10],[2012.66,.11],[2012.72,.11],[2012.77,.12],[2012.82,.11],[2012.87,.13],[2012.93,.12],[2012.98,.14],[2013.03,.13],[2013.08,.14],[2013.14,.15],[2013.19,.17],[2013.24,.18],[2013.30,.18],[2013.35,.18]];
var mexicoApple = [[2009.23,.04],[2009.43,.03],[2009.58,.07],[2009.70,.11],[2011.42,.13],[2011.51,.16],[2011.53,.18],[2011.83,.03],[2012.18,.10],[2012.19,.18],[2012.21,.11],[2012.25,.09],[2012.44,.15],[2012.47,.14],[2012.71,.19],[2012.74,.16],[2012.79,.09],[2012.82,.17],[2012.84,.11],[2012.87,.14],[2012.88,-.20],[2012.91,.24],[2012.95,-.47],[2012.99,.13],[2013.04,.22],[2013.10,.11],[2013.12,.16],[2013.28,.19],[2013.31,.20],[2013.33,.52]];
var mexicoHM = [[2012.69,.02],[2012.73,.01],[2012.77,.02],[2012.81,.01],[2012.84,-.01],[2012.88,.01],[2012.93,.02],[2012.96,.03],[2013.00,.04],[2013.04,.04],[2013.08,.04],[2013.12,.05],[2013.16,.06],[2013.20,.07],[2013.24,.08],[2013.28,.08],[2013.31,.07],[2013.35,.04]];
var mexicoZara = [[2012.09,-.11],[2012.13,-.04],[2012.16,-.08],[2012.19,-.04],[2012.23,-.05],[2012.27,-.07],[2012.30,-.04],[2012.32,-.10],[2012.35,-.06],[2012.39,-.09],[2012.42,-.12],[2012.70,-.11],[2012.74,-.09],[2012.77,-.12],[2012.81,-.11],[2012.84,-.13],[2012.87,-.15],[2012.91,-.09],[2012.95,-.14],[2012.98,-.03],[2013.02,-.12],[2013.05,-.15],[2013.08,-.13],[2013.12,-.11],[2013.16,-.10],[2013.20,-.07],[2013.23,-.03],[2013.26,-.05],[2013.30,-.01],[2013.33,-.04],[2013.37,-.08]];

var swedenLine = [[2009.21,.00],[2009.25,.03],[2009.30,-.01],[2009.34,.05],[2009.37,.08],[2009.42,.06],[2009.47,.09],[2009.51,.04],[2009.55,.09],[2009.59,.14],[2009.64,.17],[2009.70,.15],[2009.75,.17],[2009.81,.18],[2009.86,.16],[2009.91,.18],[2009.97,.15],[2010.02,.13],[2010.08,.14],[2010.13,.12],[2010.18,.14],[2010.24,.11],[2010.29,.09],[2010.35,.07],[2010.40,.03],[2010.45,.06],[2010.51,.09],[2010.56,.09],[2010.62,.12],[2010.67,.15],[2010.72,.18],[2010.78,.20],[2010.83,.18],[2010.89,.17],[2010.94,.20],[2010.99,.22],[2011.05,.23],[2011.10,.25],[2011.16,.26],[2011.21,.27],[2011.26,.25],[2011.32,.30],[2011.37,.27],[2011.43,.26],[2011.48,.28],[2011.54,.25],[2011.59,.26],[2011.64,.23],[2011.70,.25],[2011.75,.21],[2011.81,.23],[2011.86,.20],[2011.91,.17],[2011.97,.18],[2012.02,.18],[2012.08,.20],[2012.13,.21],[2012.18,.23],[2012.24,.20],[2012.29,.20],[2012.35,.15],[2012.40,.14],[2012.45,.18],[2012.51,.20],[2012.56,.18],[2012.62,.20],[2012.67,.21],[2012.72,.22],[2012.78,.21],[2012.83,.23],[2012.89,.22],[2012.94,.24],[2012.99,.23],[2013.05,.25],[2013.10,.26],[2013.16,.24],[2013.21,.25],[2013.26,.23],[2013.32,.21],[2013.37,.24],[2013.43,.22],[2013.47,.20]];
var swedenApple = [[2009.21,.10],[2009.24,.11],[2009.28,.09],[2009.31,.12],[2009.34,.15],[2009.37,.15],[2009.42,.14],[2009.46,.13],[2009.48,.15],[2009.51,.00],[2009.55,.34],[2009.61,.33],[2009.64,.34],[2009.73,.37],[2009.79,.34],[2009.84,.33],[2009.91,.34],[2009.95,.20],[2010.04,.42],[2010.08,.31],[2010.11,.32],[2010.09,.25],[2010.27,.30],[2010.36,.28],[2010.52,.32],[2010.59,.24],[2010.61,.25],[2010.65,-.05],[2011.54,.29],[2011.58,.32],[2011.64,.33],[2011.69,.30],[2011.74,.34],[2011.77,.22],[2011.79,.28],[2011.84,.27],[2011.95,.26],[2012.08,.35],[2012.13,.35],[2012.16,.27],[2012.18,.20],[2012.23,.19],[2012.25,.26],[2012.27,.39],[2012.31,.23],[2012.35,.38],[2012.43,.23],[2012.46,.19],[2012.50,.16],[2012.72,.35],[2012.76,.26],[2012.78,.27],[2012.83,.24],[2012.89,.22],[2012.92,.17],[2012.96,.15],[2013.03,-.11],[2013.05,.28],[2013.06,.10],[2013.09,.37],[2013.14,.28],[2013.17,.33],[2013.21,.36],[2013.25,.33],[2013.28,.38],[2013.32,.29],[2013.35,.23]];
var swedenIkea = [[2009.20,.03],[2009.23,.14],[2009.24,-.01],[2009.26,.11],[2009.28,-.07],[2009.32,.09],[2009.36,.02],[2009.39,.16],[2009.42,.09],[2009.44,.08],[2009.46,-.11],[2009.50,.14],[2009.52,-.07],[2009.55,.22],[2009.58,.20],[2009.62,.06],[2009.64,.13],[2009.66,.29],[2009.70,.28],[2009.73,.28],[2009.77,.30],[2009.81,.09],[2009.84,-.25],[2009.86,.30],[2009.89,.16],[2009.96,.24],[2010.01,.01],[2010.06,.26],[2010.12,.09],[2010.27,.06],[2010.31,.25],[2010.36,-.02],[2010.40,.10],[2010.43,.02],[2010.47,.09],[2010.50,.18],[2010.54,.09],[2010.58,.21],[2010.61,-.07],[2010.63,-.09],[2010.66,.04],[2010.74,.31],[2010.88,.10],[2010.86,.26],[2011.06,.33],[2011.09,.36],[2011.15,.32],[2011.19,.66],[2011.23,.24],[2011.26,.41],[2011.34,.22],[2011.54,-.01],[2011.61,.23],[2011.64,.21],[2011.70,.14],[2011.73,.08],[2011.75,.09],[2011.78,.08],[2011.82,.06],[2011.85,.31],[2011.93,.34],[2012.06,.23],[2012.09,.18],[2012.11,-.25],[2012.13,-.18],[2012.17,-.34],[2012.20,.29],[2012.23,-.17],[2012.25,.23],[2012.27,.33],[2012.33,.04],[2012.36,-.09],[2012.39,.31],[2012.45,.30],[2012.46,-.01],[2012.49,-.16],[2012.51,.14],[2012.56,.07],[2012.74,.20],[2012.77,-.01],[2012.85,.12],[2013.23,.28],[2013.25,.15],[2013.28,-.01],[2013.32,.13],[2013.35,.11]];
var swedenHM = [[2012.67,.17],[2012.70,.18],[2012.74,.16],[2012.78,.14],[2012.81,.12],[2012.85,.11],[2012.88,.16],[2012.90,.18],[2012.94,.19],[2012.98,.19],[2013.03,.20],[2013.06,.21],[2013.10,.22],[2013.15,.21],[2013.19,.20],[2013.23,.20],[2013.26,.20],[2013.31,.19],[2013.35,.18],[2013.37,.18]];
var swedenZara = [[2012.06,.01],[2012.09,.05],[2012.13,.03],[2012.16,.07],[2012.20,.04],[2012.24,.02],[2012.27,.06],[2012.31,.03],[2012.35,.01],[2012.38,-.01],[2012.66,.03],[2012.70,.03],[2012.74,.01],[2012.78,.04],[2012.82,-.01],[2012.86,.01],[2012.90,-.01],[2012.94,.06],[2012.98,-.01],[2013.06,.02],[2013.10,.05],[2013.14,.09],[2013.17,.03],[2013.21,.07],[2013.25,.09],[2013.30,.04],[2013.34,.02],[2013.35,-.05]];

var ukLine = [[2008.94,.02],[2008.98,-.02],[2009.03,.01],[2009.06,-.06],[2009.10,-.03],[2009.15,-.01],[2009.19,-.02],[2009.24,-.01],[2009.30,-.02],[2009.35,.03],[2009.41,.08],[2009.46,.10],[2009.51,.11],[2009.57,.10],[2009.62,.11],[2009.68,.08],[2009.73,.10],[2009.78,.11],[2009.84,.12],[2009.89,.10],[2009.95,.08],[2010.00,.08],[2010.05,.07],[2010.11,.04],[2010.16,.02],[2010.22,.03],[2010.27,.03],[2010.32,.04],[2010.38,-.01],[2010.43,.02],[2010.49,.04],[2010.54,.03],[2010.59,.04],[2010.65,.06],[2010.70,.05],[2010.76,.06],[2010.81,.07],[2010.86,.06],[2010.92,.07],[2010.97,.06],[2011.03,.07],[2011.08,.08],[2011.14,.09],[2011.19,.08],[2011.24,.10],[2011.30,.11],[2011.35,.09],[2011.41,.08],[2011.46,.10],[2011.51,.10],[2011.57,.08],[2011.62,.10],[2011.68,.07],[2011.73,.08],[2011.78,.06],[2011.84,.07],[2011.89,.05],[2011.95,.06],[2012.00,.04],[2012.05,.06],[2012.11,.06],[2012.16,.07],[2012.22,.08],[2012.27,.10],[2012.32,.08],[2012.38,.07],[2012.43,.06],[2012.49,.07],[2012.54,.06],[2012.59,.07],[2012.65,.08],[2012.70,.09],[2012.76,.07],[2012.81,.06],[2012.86,.06],[2012.92,.07],[2012.97,.06],[2013.03,.05],[2013.08,.04],[2013.14,.02],[2013.19,.04],[2013.24,.02],[2013.30,.05],[2013.33,.04],[2013.39,.06],[2013.44,.04]];
var ukApple = [[2009.23,.14],[2009.25,.08],[2009.28,.04],[2009.31,.16],[2009.35,.17],[2009.39,.12],[2009.42,.06],[2009.44,.07],[2009.47,.19],[2009.50,.20],[2009.52,.22],[2009.55,.24],[2009.59,.26],[2009.62,.19],[2009.66,.14],[2009.70,.11],[2009.74,.16],[2009.78,.21],[2009.82,.20],[2009.86,.21],[2009.90,.00],[2011.44,.20],[2011.50,.23],[2011.54,.19],[2011.57,.21],[2011.59,.14],[2011.62,.19],[2011.64,.23],[2011.68,.23],[2011.71,.22],[2011.75,.16],[2011.78,.21],[2011.82,.23],[2011.86,.21],[2011.90,.22],[2011.95,.21],[2011.98,.22],[2012.06,.38],[2012.12,.14],[2012.15,.13],[2012.18,.15],[2012.20,.14],[2012.23,.30],[2012.25,.27],[2012.29,.25],[2012.33,.29],[2012.35,.32],[2012.38,.38],[2012.40,.39],[2012.43,.24],[2012.45,.20],[2012.49,.24],[2012.52,.09],[2012.55,.24],[2012.59,.27],[2012.63,.23],[2012.67,.21],[2012.70,.20],[2012.74,.24],[2012.78,.21],[2012.81,.19],[2012.85,.14],[2012.88,.21],[2012.92,.23],[2012.94,.12],[2012.97,.21],[2013.01,.20],[2013.05,.23],[2013.08,.19],[2013.12,.21],[2013.16,.15],[2013.19,.21],[2013.23,.19],[2013.26,.20],[2013.31,.19],[2013.34,.20]];
var ukIkea = [[2008.92,-.12],[2008.94,-.22],[2008.97,.03],[2008.99,-.20],[2009.03,-.07],[2009.05,-.10],[2009.08,-.14],[2009.10,-.04],[2009.12,.07],[2009.14,-.19],[2009.16,-.07],[2009.19,-.02],[2009.21,-.18],[2009.24,.15],[2009.26,-.12],[2009.30,-.07],[2009.32,-.13],[2009.34,-.05],[2009.36,-.10],[2009.37,-.71],[2009.39,-.73],[2009.42,-.10],[2009.44,.15],[2009.46,-.02],[2009.48,-.15],[2009.50,.17],[2009.52,-.13],[2009.55,.07],[2009.57,-.10],[2009.61,.10],[2009.63,.04],[2009.66,-.07],[2009.68,.16],[2009.70,-.02],[2009.73,.01],[2009.75,.21],[2009.78,.18],[2009.82,.19],[2009.86,.16],[2009.89,.23],[2009.93,.00],[2009.97,.06],[2010.06,.19],[2010.09,.19],[2010.13,-.02],[2010.31,.14],[2010.39,.07],[2010.42,.29],[2010.44,.02],[2010.50,.03],[2010.53,-.19],[2010.56,.15],[2010.63,.13],[2010.86,.04],[2010.93,-.09],[2010.98,.25],[2011.01,-.19],[2011.05,.01],[2011.06,.13],[2011.09,.33],[2011.14,.03],[2011.17,.21],[2011.19,.40],[2011.24,.15],[2011.28,.21],[2011.31,.03],[2011.52,.07],[2011.58,.21],[2011.61,-.06],[2011.64,.08],[2011.68,.33],[2011.71,.12],[2011.74,.39],[2011.78,.29],[2011.79,.03],[2011.82,.27],[2011.85,.13],[2011.89,.07],[2011.92,.04],[2012.06,.19],[2012.08,.39],[2012.11,.25],[2012.15,.04],[2012.18,.29],[2012.22,.06],[2012.25,.24],[2012.29,.29],[2012.32,.38],[2012.35,.42],[2012.39,.14],[2012.45,.16],[2012.52,.21],[2012.58,.25],[2012.66,.19],[2012.70,.14],[2012.74,.20],[2012.78,.11],[2012.82,.14],[2013.23,.11],[2013.25,.00],[2013.28,.14],[2013.31,.17]];
var ukHM = [[2012.10,-.03],[2012.12,-.09],[2012.15,-.06],[2012.18,-.02],[2012.20,-.09],[2012.23,-.05],[2012.25,-.01],[2012.28,-.06],[2012.31,-.10],[2012.34,.02],[2012.36,.07],[2012.39,-.05],[2012.40,.23],[2012.43,-.10],[2012.47,-.02],[2012.50,-.10],[2012.53,.04],[2012.55,-.13],[2012.60,-.02],[2012.63,-.13],[2012.67,-.07],[2012.70,-.09],[2012.72,.07],[2012.74,.01],[2012.77,-.06],[2012.79,-.10],[2012.82,-.01],[2012.85,-.07],[2012.88,-.10],[2012.90,-.06],[2012.93,-.15],[2012.94,-.21],[2012.97,-.04],[2013.01,.01],[2013.03,-.10],[2013.07,-.05],[2013.09,-.13],[2013.14,-.06],[2013.17,-.11],[2013.21,-.07],[2013.24,-.13],[2013.28,-.06],[2013.31,-.11],[2013.34,-.03],[2013.36,-.10]];
var ukZara = [[2012.06,-.19],[2012.11,-.16],[2012.15,-.20],[2012.18,-.16],[2012.22,-.19],[2012.25,-.15],[2012.29,-.18],[2012.32,-.15],[2012.36,-.12],[2012.40,-.11],[2013.07,-.18],[2013.10,-.20],[2013.14,-.23],[2013.17,-.19],[2013.21,-.22],[2013.24,-.18],[2013.28,-.20],[2013.31,-.18],[2013.34,-.28],[2013.35,-.18]];

var brands = ["Apple", "Ikea", "H & M", "Zara"];
var brandColors = ["#ff0000", "#0000ff", "#0a870a", "#8c8c8c"];

// ---- layout of the 12 panels (pixel geometry) ----
var panels = [
  {title: "Austria and USA", line: lineAF, pts: [austriaApple, austriaIkea, euroHM, euroZara],
   left: 46, right: 348, top: 48, bottom: 265, xa: 59, xb: 306, t: [-.4, .4], tp: [253, 62], ticks: [-.4, -.2, 0, .2, .4]},
  {title: "Canada and USA", line: canadaLine, pts: [canadaApple, canadaIkea, canadaHM, canadaZara],
   left: 426, right: 727, top: 48, bottom: 265, xa: 437.7, xb: 685.7, t: [-.2, .6], tp: [247, 61], ticks: [-.2, 0, .2, .4, .6]},
  {title: "China and USA", line: chinaLine, pts: [chinaApple, chinaIkea, chinaHM, chinaZara],
   left: 805, right: 1107, top: 48, bottom: 265, xa: 817.7, xb: 1064.3, t: [-.4, .6], tp: [253, 62], ticks: [-.4, -.2, 0, .2, .4, .6]},
  {title: "Spain and USA", line: spainLine, pts: [spainApple, spainIkea, spainHM, spainZara],
   left: 1184, right: 1486, top: 48, bottom: 265, xa: 1197, xb: 1443.7, t: [-.5, .5], tp: [253, 61], ticks: [-.5, 0, .5]},
  {title: "Germany and USA", line: euroLine, pts: [germanyApple, germanyIkea, euroHM, euroZara],
   left: 46, right: 348, top: 378, bottom: 595, xa: 59, xb: 306, t: [-.4, .4], tp: [582.7, 390.7], ticks: [-.4, -.2, 0, .2, .4]},
  {title: "Finland and USA", line: lineAF, pts: [finlandApple, finlandIkea, finlandHM, finlandZara],
   left: 426, right: 727, top: 378, bottom: 595, xa: 437.7, xb: 685.7, t: [-.6, .4], tp: [582.7, 391.7], ticks: [-.6, -.4, -.2, 0, .2, .4]},
  {title: "France and USA", line: euroLine, pts: [franceApple, franceIkea, franceHM, euroZara.concat(franceZaraExtra)],
   left: 805, right: 1107, top: 378, bottom: 595, xa: 817.7, xb: 1064.3, t: [-.4, .4], tp: [582.7, 406], ticks: [-.4, -.2, 0, .2, .4]},
  {title: "Italy and USA", line: italyLine, pts: [italyApple, italyIkea, euroHM, euroZara],
   left: 1184, right: 1486, top: 378, bottom: 595, xa: 1199, xb: 1444, t: [-.4, .6], tp: [582.7, 390], ticks: [-.4, -.2, 0, .2, .4, .6]},
  {title: "Japan and USA", line: japanLine, pts: [japanApple, japanIkea, japanHM, japanZara],
   left: 46, right: 348, top: 708, bottom: 925, xa: 59, xb: 306, t: [-.4, .6], tp: [911.7, 720], ticks: [-.4, -.2, 0, .2, .4, .6]},
  {title: "Mexico and USA", line: mexicoLine, pts: [mexicoApple, [], mexicoHM, mexicoZara],
   left: 426, right: 727, top: 708, bottom: 925, xa: 437.7, xb: 692.7, t: [-.5, .5], tp: [912.3, 723.3], ticks: [-.5, 0, .5]},
  {title: "Sweden and USA", line: swedenLine, pts: [swedenApple, swedenIkea, swedenHM, swedenZara],
   left: 805, right: 1107, top: 708, bottom: 925, xa: 817.7, xb: 1064.3, t: [-.4, .6], tp: [912.3, 729.3], ticks: [-.4, -.2, 0, .2, .4, .6]},
  {title: "United Kingdom and USA", line: ukLine, pts: [ukApple, ukIkea, ukHM, ukZara],
   left: 1181, right: 1486, top: 708, bottom: 925, xa: 1197.7, xb: 1444.3, t: [-1, .5], tp: [912.3, 720], ticks: [-1, -.5, 0, .5]}
];

var fmt = function(d) { return d === 0 ? "0" : String(d).replace("0.", "."); };

// marker outlines, k = scale
var shapes = [
  function(k) { var r = 3.9 * k; return "M" + r + ",0A" + r + "," + r + " 0 1,1 " + (-r) + ",0A" + r + "," + r + " 0 1,1 " + r + ",0Z"; },
  function(k) { return "M0," + (-4.8 * k) + "L" + (4.6 * k) + "," + (3.2 * k) + "L" + (-4.6 * k) + "," + (3.2 * k) + "Z"; },
  function(k) { var h = 3.7 * k; return "M" + (-h) + "," + (-h) + "h" + (2 * h) + "v" + (2 * h) + "h" + (-2 * h) + "Z"; },
  function(k) { var h = 5 * k; return "M0," + (-h) + "L" + h + ",0L0," + h + "L" + (-h) + ",0Z"; }
];

var svg = d3.select("#chart").append("svg").attr("width", 1494).attr("height", 1067);

panels.forEach(function(p) {
  var x0 = d3.scaleLinear().domain([2009, 2013]).range([p.xa, p.xb]);
  var y0 = d3.scaleLinear().domain(p.t).range(p.tp);
  var x = d3.scaleLinear().domain([x0.invert(p.left), x0.invert(p.right)]).range([p.left, p.right]);
  var y = d3.scaleLinear().domain([y0.invert(p.bottom), y0.invert(p.top)]).range([p.bottom, p.top]);
  var g = svg.append("g");

  g.selectAll(".grid").data(p.ticks).enter().append("line")
    .attr("x1", p.left).attr("x2", p.right)
    .attr("y1", function(d) { return y(d); }).attr("y2", function(d) { return y(d); })
    .attr("stroke", "#e4edf1").attr("stroke-width", 1.4);

  var ya = g.append("g").attr("transform", "translate(" + p.left + ",0)")
    .call(d3.axisLeft(y).tickValues(p.ticks).tickFormat(fmt).tickSizeInner(5).tickSizeOuter(0));
  ya.selectAll("text").attr("transform", "rotate(-90)").attr("x", 0).attr("y", -13)
    .attr("dy", 0).style("text-anchor", "middle");

  var xa = g.append("g").attr("transform", "translate(0," + p.bottom + ")")
    .call(d3.axisBottom(x).tickValues([2009, 2010, 2011, 2012, 2013]).tickFormat(d3.format("d")).tickSizeInner(5).tickSizeOuter(0));
  xa.selectAll("text").attr("y", 13);

  [ya, xa].forEach(function(a) {
    a.selectAll("text").style("font-size", "19px").attr("fill", "#000").style("font-family", '"Liberation Sans", Arial, sans-serif');
    a.selectAll("path, line").attr("stroke", "#333");
  });

  p.pts.forEach(function(arr, i) {
    g.selectAll(".m" + i).data(arr).enter().append("path")
      .attr("class", "m" + i)
      .attr("d", shapes[i](1))
      .attr("transform", function(d) { return "translate(" + x(d[0]) + "," + y(d[1]) + ")"; })
      .attr("fill", "none").attr("stroke", brandColors[i]).attr("stroke-width", 1.5);
  });

  g.append("path").datum(p.line)
    .attr("d", d3.line().x(function(d) { return x(d[0]); }).y(function(d) { return y(d[1]); }))
    .attr("fill", "none").attr("stroke", "#000").attr("stroke-width", 1.2);

  g.append("text").attr("x", (p.left + p.right) / 2).attr("y", p.top - 12)
    .attr("text-anchor", "middle").style("font-size", "27.5px").attr("fill", "#24345a")
    .text(p.title);
});

// legend
var lg = svg.append("g");
lg.append("rect").attr("x", 373.5).attr("y", 995.5).attr("width", 748).attr("height", 80)
  .attr("fill", "#fff").attr("stroke", "#000").attr("stroke-width", 1.5);
var legendX = [400, 600, 773, 986];
brands.forEach(function(b, i) {
  lg.append("path").attr("d", shapes[i](1.65))
    .attr("transform", "translate(" + legendX[i] + ",1032)")
    .attr("fill", "none").attr("stroke", brandColors[i]).attr("stroke-width", 2.4);
  lg.append("text").attr("x", legendX[i] + 33).attr("y", 1047)
    .style("font-size", "40px").attr("fill", "#000").text(b);
});
</script>
</body>
</html>
